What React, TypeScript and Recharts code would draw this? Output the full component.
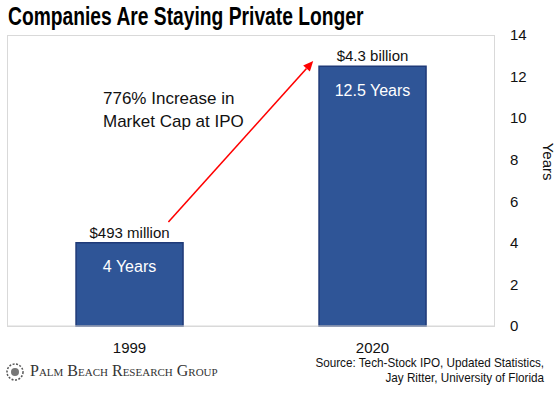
import { BarChart, Bar, XAxis, YAxis, LabelList, ReferenceLine } from "recharts";

const years = ["1999", "2020"];
const yearsToIpo = [4, 12.5];
const marketCapLabels = ["$493 million", "$4.3 billion"];
const yearLabels = ["4 Years", "12.5 Years"];
const yTicks = [0, 2, 4, 6, 8, 10, 12, 14];

// arrow endpoints, in (hidden 0..1 x, years) units
const arrowFrom = { x: 0.33, y: 5.0 };
const arrowTo = { x: 0.628, y: 12.75 };

const data = years.map((year, i) => ({
    year,
    value: yearsToIpo[i],
    cap: marketCapLabels[i],
    label: yearLabels[i],
}));

const ARIAL = "'Liberation Sans', Arial, sans-serif";

function Arrow(props: any) {
    const { x1, y1, x2, y2 } = props;
    if ([x1, y1, x2, y2].some((v) => typeof v !== "number")) return null;
    const ang = Math.atan2(y2 - y1, x2 - x1);
    const len = 10;
    const w = 4.5;
    const bx = x2 - len * Math.cos(ang);
    const by = y2 - len * Math.sin(ang);
    const px = -Math.sin(ang) * w;
    const py = Math.cos(ang) * w;
    return (
        <g>
            <line x1={x1} y1={y1} x2={bx} y2={by} stroke="#ff0000" strokeWidth={1.6} />
            <polygon
                points={`${x2},${y2} ${bx + px},${by + py} ${bx - px},${by - py}`}
                fill="#ff0000"
            />
        </g>
    );
}

export default function App() {
    return (
        <div style={{ position: "absolute", left: 0, top: 0, width: 560, height: 397, background: "#fff" }}>
            <div
                style={{
                    position: "absolute",
                    left: 8,
                    top: 2,
                    fontFamily: ARIAL,
                    fontWeight: "bold",
                    fontSize: 25,
                    color: "#000",
                    whiteSpace: "nowrap",
                    transform: "scaleX(0.77)",
                    transformOrigin: "left top",
                }}
            >
                Companies Are Staying Private Longer
            </div>
            <div
                style={{
                    position: "absolute",
                    left: 7,
                    top: 35,
                    width: 486,
                    height: 290,
                    border: "1px solid #d9d9d9",
                }}
            />
            <div style={{ position: "absolute", left: 0, top: 0 }}>
                <BarChart
                    width={560}
                    height={397}
                    data={data}
                    margin={{ top: 35, right: 16, bottom: 41, left: 8 }}
                    barCategoryGap="28%"
                >
                    <XAxis
                        dataKey="year"
                        height={30}
                        axisLine={{ stroke: "#d9d9d9" }}
                        tickLine={false}
                        tickSize={0}
                        tickMargin={16}
                        tick={{ fill: "#111", fontSize: 15, fontFamily: ARIAL }}
                    />
                    <XAxis xAxisId="n" type="number" domain={[0, 1]} allowDataOverflow hide />
                    <YAxis
                        orientation="right"
                        width={50}
                        domain={[0, 14]}
                        ticks={yTicks}
                        axisLine={false}
                        tickLine={false}
                        tickSize={0}
                        tickMargin={16}
                        tick={{ fill: "#111", fontSize: 15, fontFamily: ARIAL, textAnchor: "start" }}
                        label={{
                            value: "Years",
                            angle: 90,
                            position: "insideRight",
                            offset: -4,
                            style: { fill: "#111", fontSize: 15, fontFamily: ARIAL },
                        }}
                    />
                    <Bar
                        dataKey="value"
                        fill="#2f5597"
                        stroke="#1f3a78"
                        strokeWidth={1.5}
                        isAnimationActive={false}
                    >
                        <LabelList
                            dataKey="cap"
                            position="top"
                            offset={5}
                            style={{ fill: "#111", fontSize: 15, fontFamily: ARIAL }}
                        />
                        <LabelList
                            dataKey="label"
                            position="insideTop"
                            offset={18}
                            style={{ fill: "#fff", fontSize: 16, fontFamily: ARIAL }}
                        />
                    </Bar>
                    <ReferenceLine
                        xAxisId="n"
                        segment={[arrowFrom, arrowTo]}
                        shape={(p: any) => <Arrow {...p} />}
                        ifOverflow="visible"
                    />
                </BarChart>
            </div>
            <div
                style={{
                    position: "absolute",
                    left: 103,
                    top: 87,
                    fontFamily: ARIAL,
                    fontSize: 17,
                    lineHeight: "23px",
                    color: "#111",
                    whiteSpace: "nowrap",
                }}
            >
                776% Increase in
                <br />
                Market Cap at IPO
            </div>
            <svg style={{ position: "absolute", left: 4, top: 360 }} width={22} height={26}>
                <circle cx={11} cy={12} r={8} fill="none" stroke="#555" strokeWidth={1.5} strokeDasharray="2 1.5" />
                <circle cx={11} cy={12} r={4} fill="#777" />
            </svg>
            <div
                style={{
                    position: "absolute",
                    left: 30,
                    top: 362,
                    fontFamily: "'Liberation Serif', 'DejaVu Serif', serif",
                    fontVariant: "small-caps",
                    fontSize: 16,
                    color: "#333",
                    whiteSpace: "nowrap",
                }}
            >
                Palm Beach Research Group
            </div>
            <div
                style={{
                    position: "absolute",
                    right: 16,
                    top: 355,
                    textAlign: "right",
                    fontFamily: ARIAL,
                    fontSize: 13,
                    lineHeight: "15px",
                    color: "#111",
                    whiteSpace: "nowrap",
                    transform: "scaleX(0.9)",
                    transformOrigin: "right top",
                }}
            >
                Source: Tech-Stock IPO, Updated Statistics,
                <br />
                Jay Ritter, University of Florida
            </div>
        </div>
    );
}
